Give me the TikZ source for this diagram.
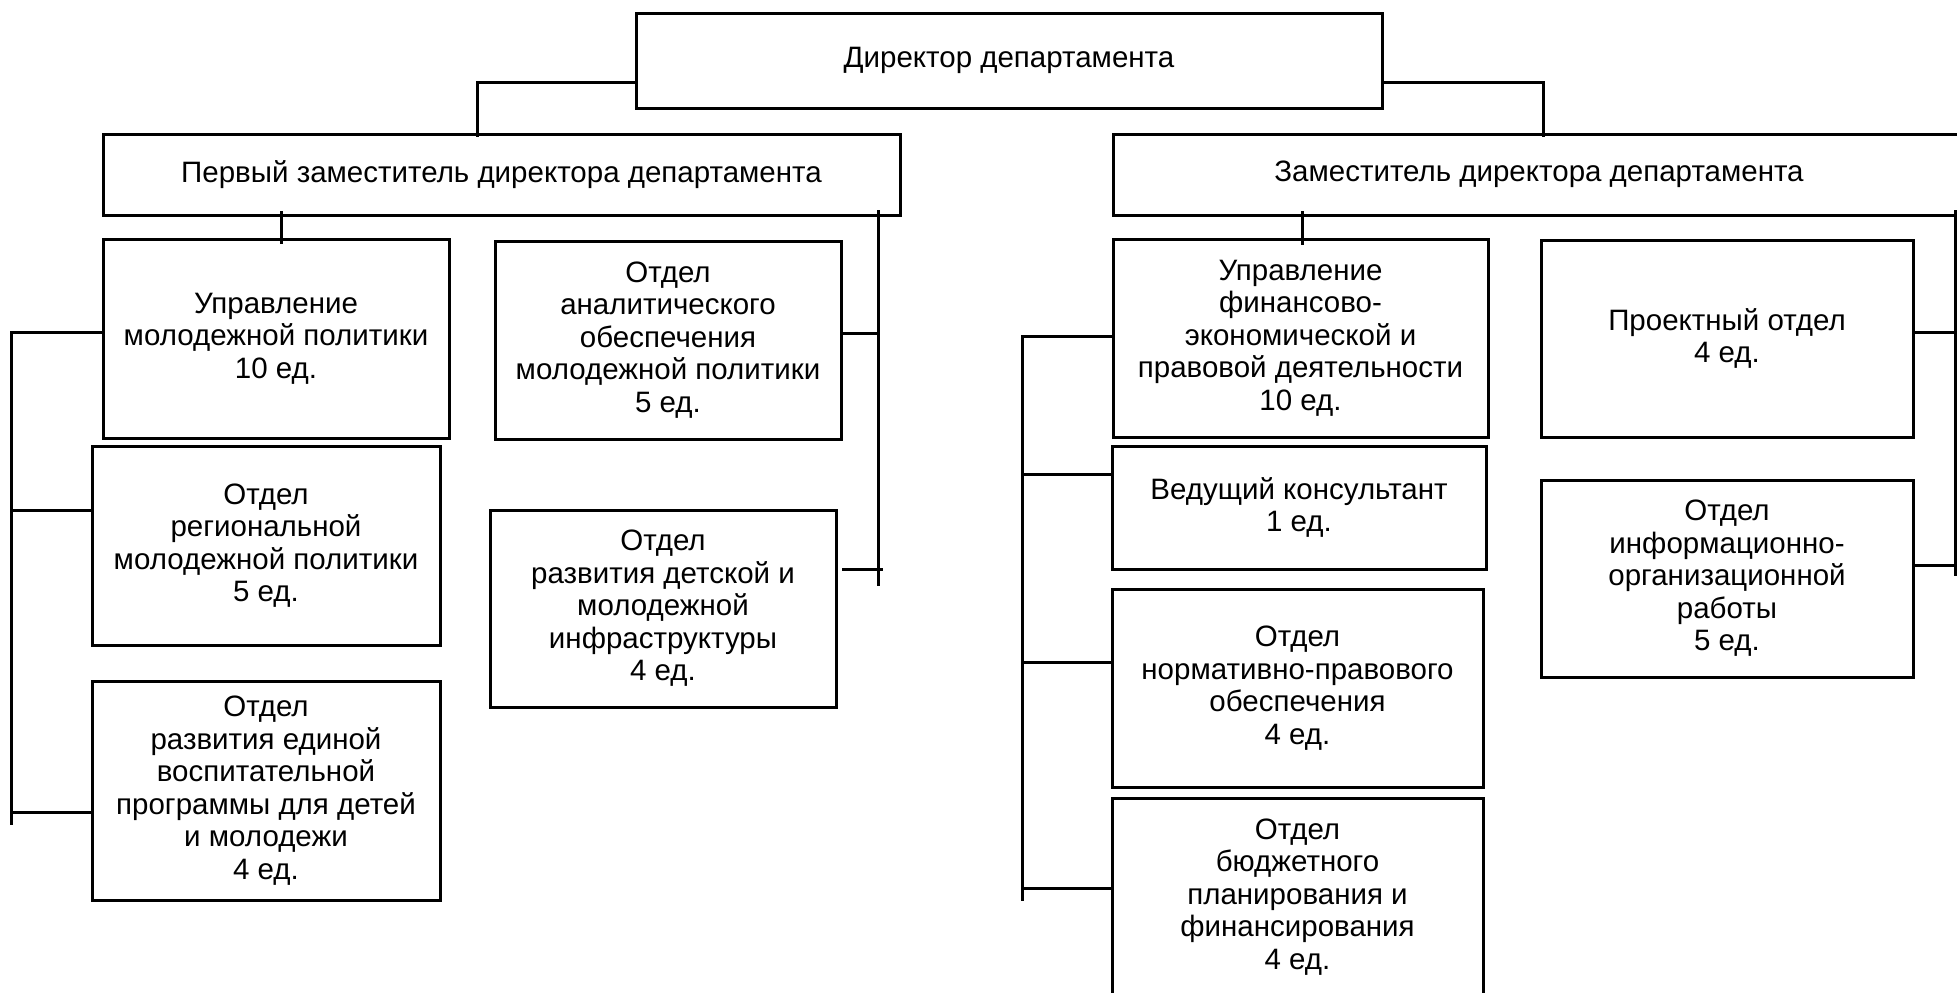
\documentclass[tikz,border=0pt]{standalone}
\usepackage{fontspec}
\setmainfont{Liberation Sans}
\usepackage{tikz}
\tikzset{
  unit/.style={rectangle, draw=black, line width=3pt, fill=white, align=center, inner sep=0pt, font=\fontsize{29.5}{32.5}\selectfont},
  link/.style={line width=3pt, line cap=rect}
}

\begin{document}
\begin{tikzpicture}[x=1pt, y=-1pt]
\useasboundingbox (0,0) rectangle (1957,993);
% TOP
\node[unit, minimum width=746, minimum height=95] (dir) at (1009,60.5) {Директор департамента};
\node[unit, minimum width=797, minimum height=81] (dep1) at (501.5,174.5) {Первый заместитель директора департамента};
\node[unit, minimum width=852, minimum height=81] (dep2) at (1539,174.5) {Заместитель директора департамента};

\draw[link] ([yshift=-22pt]dir.west) -| ([xshift=-24pt,yshift=-3pt]dep1.north);
\draw[link] ([yshift=-22pt]dir.east) -| ([xshift=4pt,yshift=-3pt]dep2.north);

% FIRST DEPUTY - left part
\node[unit, minimum width=346, minimum height=199] (upm) at (276,338.5) {Управление\\молодежной политики\\10 ед.};
\node[unit, minimum width=348, minimum height=199] (reg) at (266,545.5) {Отдел\\региональной\\молодежной политики\\5 ед.};
\node[unit, minimum width=348, minimum height=219] (edn) at (266,790.5) {Отдел\\развития единой\\воспитательной\\программы для детей\\и молодежи\\4 ед.};
\node[unit, minimum width=346, minimum height=198] (anl) at (668,340) {Отдел\\аналитического\\обеспечения\\молодежной политики\\5 ед.};
\node[unit, minimum width=346, minimum height=197] (det) at (663,608.5) {Отдел\\развития детской и\\молодежной\\инфраструктуры\\4 ед.};

\coordinate (busa) at (11,332);
\coordinate (busb) at (878,211);
\draw[link] ([xshift=5pt]upm.north |- dep1.south) ++(0,-4) -- ([xshift=5pt,yshift=-5pt]upm.north);
\draw[link] (busa) -- (11,823);
\draw[link] (busa) -- ([yshift=6.5pt]upm.west);
\draw[link] ([yshift=35.5pt]reg.west) -- ([yshift=35.5pt]reg.west -| busa);
\draw[link] ([yshift=-21.5pt]edn.west) -- ++(-78,0);
\draw[link] (busb) -- (878,584);
\draw[link] ([yshift=7pt]anl.east) -- ([yshift=7pt]anl.east -| busb);
\draw[link] ([xshift=6pt,yshift=39.5pt]det.east) -- ([xshift=3pt,yshift=39.5pt]det.east -| busb);

% SECOND DEPUTY - right part
\node[unit, minimum width=375, minimum height=198] (fin) at (1300.5,338) {Управление\\финансово-\\экономической и\\правовой деятельности\\10 ед.};
\node[unit, minimum width=374, minimum height=123] (ved) at (1299,507.5) {Ведущий консультант\\1 ед.};
\node[unit, minimum width=371, minimum height=198] (nrm) at (1297.5,688) {Отдел\\нормативно-правового\\обеспечения\\4 ед.};
\node[unit, minimum width=371, minimum height=198] (bud) at (1297.5,897) {Отдел\\бюджетного\\планирования и\\финансирования\\4 ед.};
\node[unit, minimum width=372, minimum height=197] (prj) at (1727,338.5) {Проектный отдел\\4 ед.};
\node[unit, minimum width=372, minimum height=197] (inf) at (1727,578.5) {Отдел\\информационно-\\организационной\\работы\\5 ед.};

\coordinate (busc) at (1022,336);
\coordinate (busd) at (1955,211);
\draw[link] ([xshift=2pt]fin.north |- dep2.south) ++(0,-4) -- ([xshift=2pt,yshift=-6pt]fin.north);
\draw[link] (busc) -- (1022,899);
\draw[link] (busc) -- ([yshift=2pt]fin.west);
\draw[link] ([yshift=33.5pt]ved.west) -- ([yshift=33.5pt]ved.west -| busc);
\draw[link] ([yshift=26pt]nrm.west) -- ([yshift=26pt]nrm.west -| busc);
\draw[link] ([yshift=9pt]bud.west) -- ([yshift=9pt]bud.west -| busc);
\draw[link] (busd) -- (1955,574);
\draw[link] ([yshift=6.5pt]prj.east) -- ([yshift=6.5pt]prj.east -| busd);
\draw[link] ([yshift=13.5pt]inf.east) -- ([yshift=13.5pt]inf.east -| busd);
\end{tikzpicture}
\end{document}
